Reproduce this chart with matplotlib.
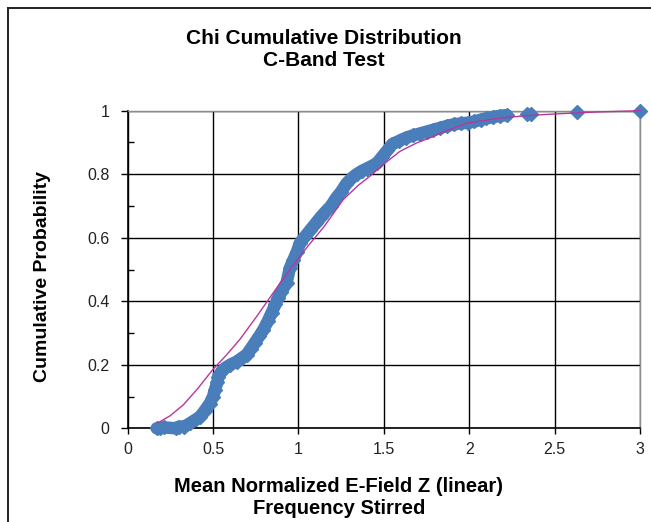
import numpy as np
import matplotlib
matplotlib.use("Agg")
import matplotlib.pyplot as plt
from matplotlib.lines import Line2D

plt.rcParams['font.family'] = ['Liberation Sans', 'DejaVu Sans']

meas_x = [0.17, 0.19, 0.21, 0.28, 0.30, 0.33, 0.365, 0.40, 0.423, 0.45,
          0.48, 0.50, 0.51, 0.525, 0.53, 0.55, 0.57, 0.60, 0.638, 0.67,
          0.697, 0.72, 0.745, 0.77, 0.794, 0.82, 0.843, 0.865, 0.88, 0.90,
          0.93, 0.95, 0.97, 0.99, 1.01, 1.04, 1.07, 1.10, 1.13, 1.16,
          1.19, 1.22, 1.25, 1.28, 1.31, 1.34, 1.37, 1.40, 1.43, 1.46,
          1.49, 1.52, 1.55, 1.59, 1.63, 1.67, 1.71, 1.75, 1.79, 1.83,
          1.87, 1.91, 1.95, 1.99, 2.03, 2.07, 2.10, 2.14, 2.18, 2.22,
          2.34, 2.36, 2.63, 3.0]
meas_y = [0.0, 0.0, 0.003, 0.0, 0.005, 0.005, 0.016, 0.028, 0.036, 0.055,
          0.078, 0.10, 0.12, 0.145, 0.163, 0.18, 0.19, 0.20, 0.21, 0.222,
          0.232, 0.25, 0.27, 0.29, 0.31, 0.337, 0.364, 0.39, 0.41, 0.43,
          0.458, 0.505, 0.53, 0.555, 0.585, 0.605, 0.625, 0.645, 0.665, 0.683,
          0.70, 0.725, 0.745, 0.77, 0.787, 0.80, 0.81, 0.818, 0.826, 0.835,
          0.855, 0.875, 0.895, 0.905, 0.915, 0.922, 0.928, 0.934, 0.94, 0.946,
          0.952, 0.957, 0.96, 0.962, 0.966, 0.972, 0.976, 0.98, 0.984, 0.986,
          0.989, 0.99, 0.995, 1.0]

# theoretical chi CDF curve
theo_x = [0.18, 0.25, 0.326, 0.41, 0.497, 0.577, 0.657, 0.755, 0.853, 0.95,
          1.05, 1.15, 1.262, 1.35, 1.419, 1.50, 1.594, 1.69, 1.79, 1.89,
          1.985, 2.18, 2.35, 2.51, 2.75, 3.0]
theo_y = [0.018, 0.04, 0.074, 0.125, 0.184, 0.23, 0.28, 0.352, 0.427, 0.50,
          0.57, 0.635, 0.72, 0.765, 0.794, 0.832, 0.872, 0.898, 0.919, 0.942,
          0.961, 0.977, 0.985, 0.99, 0.996, 1.0]

x_ticks = [0, 0.5, 1, 1.5, 2, 2.5, 3]
x_tick_labels = ["0", "0.5", "1", "1.5", "2", "2.5", "3"]
y_ticks = [0, 0.2, 0.4, 0.6, 0.8, 1]
y_tick_labels = ["0", "0.2", "0.4", "0.6", "0.8", "1"]
y_minor = [0.1, 0.3, 0.5, 0.7, 0.9]

BLUE = "#4A7EBB"
MAGENTA = "#B8369C"

W, H = 651, 522
fig = plt.figure(figsize=(W / 100, H / 100), dpi=100)
ax = fig.add_axes([127.7 / W, 1 - 428.3 / H, (640 - 127.7) / W, (428.3 - 110.7) / H])

mx = np.array(meas_x)
my = np.array(meas_y)
band = mx <= 2.25
# the dense run of diamonds merges into a band; a thick line fills the gaps
ax.plot(mx[band], my[band], color=BLUE, lw=9, solid_capstyle="round",
        solid_joinstyle="round", zorder=3, clip_on=False)
ax.plot(mx, my, ls="none", marker="D", ms=7.5, color=BLUE, mec=BLUE,
        zorder=4, clip_on=False)
ax.plot(theo_x, theo_y, color=MAGENTA, lw=1.0, zorder=5, clip_on=False)

ax.set_xlim(0, 3)
ax.set_ylim(0, 1)
ax.set_xticks(x_ticks, x_tick_labels)
ax.set_yticks(y_ticks, y_tick_labels)
ax.set_yticks(y_minor, minor=True)
ax.grid(True, which="major", color="black", lw=1.0, zorder=1)
ax.set_axisbelow(True)

ax.tick_params(axis="x", which="major", direction="out", length=4, width=1,
               color="black", labelsize=11.5, labelcolor="#222222", pad=6)
ax.tick_params(axis="y", which="major", direction="out", length=5, width=1,
               color="black", labelsize=11.5, labelcolor="#222222", pad=8)
ax.tick_params(axis="y", which="minor", direction="in", length=4, width=1,
               color="black")

for side in ["left", "bottom"]:
    ax.spines[side].set_color("black")
    ax.spines[side].set_linewidth(1.2)
for side in ["right", "top"]:
    ax.spines[side].set_color("#8c8c8c")
    ax.spines[side].set_linewidth(1.0)

fig.text(324 / W, 1 - 39 / H, "Chi Cumulative Distribution", ha="center",
         va="center", fontsize=15, fontweight="bold")
fig.text(324 / W, 1 - 61 / H, "C-Band Test", ha="center", va="center",
         fontsize=15, fontweight="bold")
fig.text(339 / W, 1 - 486 / H, "Mean Normalized E-Field Z (linear)",
         ha="center", va="center", fontsize=14.5, fontweight="bold")
fig.text(339 / W, 1 - 509 / H, "Frequency Stirred", ha="center", va="center",
         fontsize=14.5, fontweight="bold")
fig.text(43 / W, 1 - 276 / H, "Cumulative Probability", ha="center",
         va="center", rotation=90, fontsize=14, fontweight="bold")

# screenshot frame (left and top edges only)
fx, fy = 8 / W, 1 - 8 / H
fig.add_artist(Line2D([fx, fx], [0, fy], transform=fig.transFigure,
                      color="#222222", lw=1.4))
fig.add_artist(Line2D([fx, 1], [fy, fy], transform=fig.transFigure,
                      color="#222222", lw=1.4))

fig.savefig("out.png", dpi=100)
